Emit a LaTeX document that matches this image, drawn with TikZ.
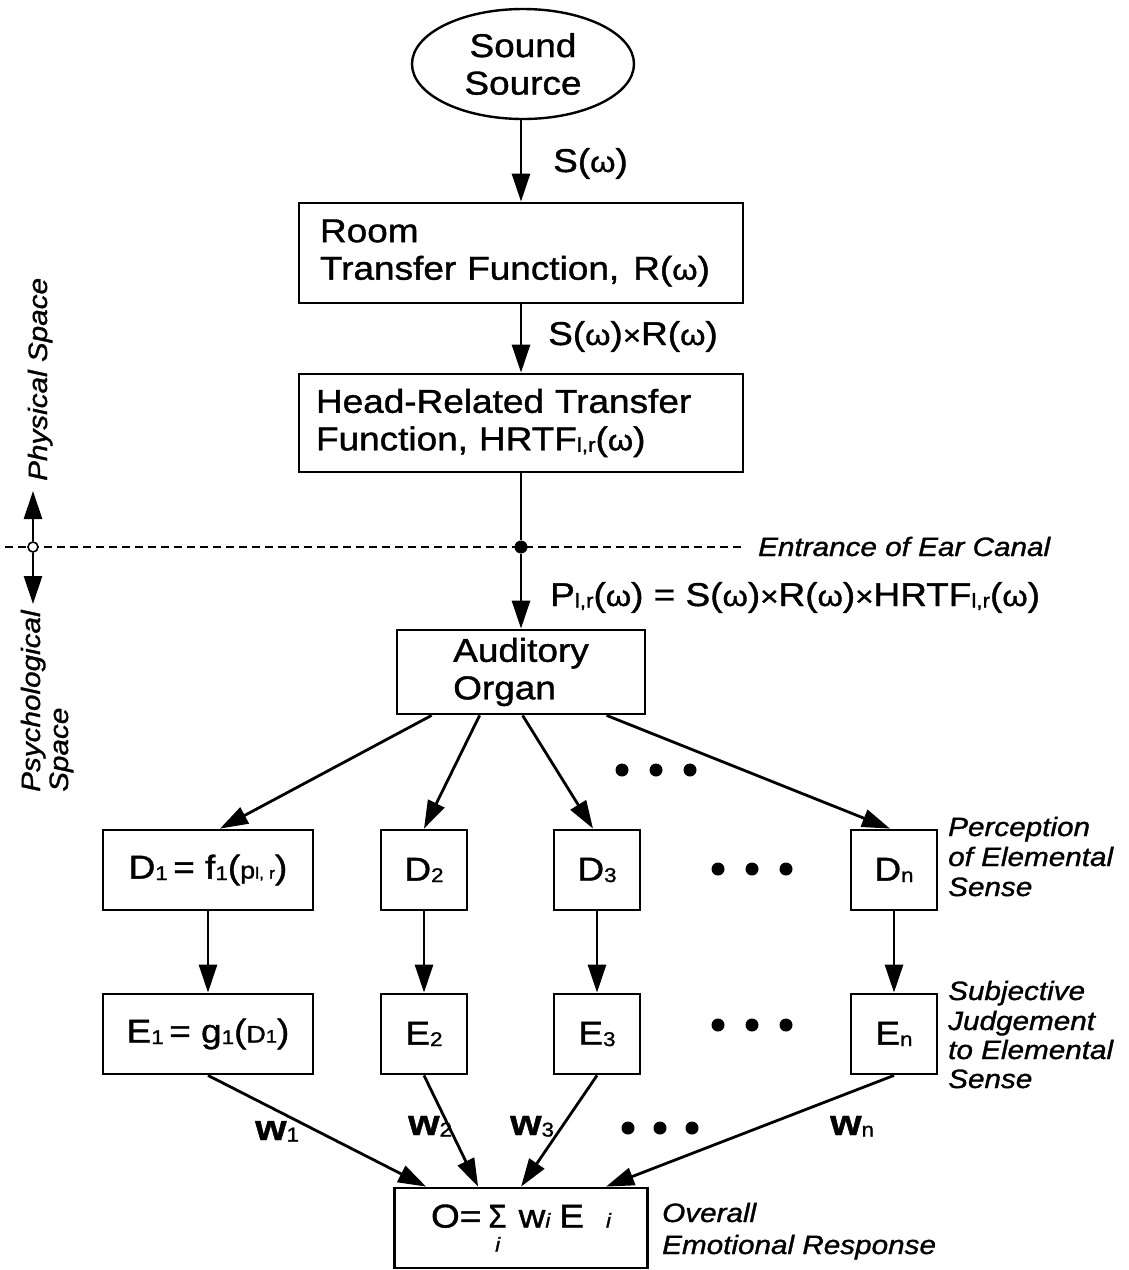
\documentclass[tikz,border=0pt]{standalone}
\usepackage{fontspec}
\setmainfont{Liberation Sans}[FakeStretch=1.12, FakeBold=1.2]
\usetikzlibrary{arrows.meta,shapes.geometric,calc}

% text sizes
\newcommand\mainfs{\fontsize{33}{37.5}\selectfont}
\newcommand\notefs{\fontsize{26.5}{30}\selectfont\itshape}
% small index set at the baseline
\newcommand\sbs[1]{\raisebox{-1.5pt}{\fontsize{20}{20}\selectfont #1}}
\newcommand\sbsi[1]{{\fontsize{20}{20}\selectfont\itshape #1}}
% omega and times sign, set a little smaller than the text
\newcommand\om{{\fontsize{29}{29}\selectfont ω}}
\newcommand\tms{{\fontsize{28}{28}\selectfont ×}}
% summation sign with its index underneath
\newcommand\sumi{\scalebox{0.8}[1]{Σ}\llap{\raisebox{-24pt}{\makebox[18pt][c]{\sbsi{i}}}}}

\tikzset{
  box/.style={draw, line width=2.8pt, inner sep=0pt, font=\mainfs},
  arr/.style={-{Triangle[length=28pt,width=18pt]}, line width=2.8pt},
  plain/.style={line width=2.8pt},
  lab/.style={anchor=base west, inner sep=0pt, font=\mainfs},
  note/.style={anchor=base west, inner sep=0pt, font=\notefs},
  wlab/.style={anchor=base west, inner sep=0pt, font=\fontsize{36}{36}\selectfont\bfseries},
  bigdot/.style={circle, fill, inner sep=0pt, minimum size=13pt},
}

\begin{document}
\begin{tikzpicture}[x=1pt,y=-1pt]
\useasboundingbox (0,0) rectangle (1128,1270);

% physical chain
\node[draw, ellipse, line width=2.4pt, minimum width=222pt, minimum height=110pt,
      inner sep=0pt, align=center, font=\mainfs] (src) at (523,64) {Sound\\Source};
\node[box, minimum width=444pt, minimum height=100pt, text width=402pt,
      inner xsep=21pt, align=left] (room) at (521,253) {Room\\Transfer Function,\hspace{14pt}R(\om)};
\node[box, minimum width=444pt, minimum height=98pt, text width=410pt,
      inner xsep=17pt, align=left] (hrtf) at (521,423) {Head-Related Transfer\\Function, HRTF\sbs{l,r}(\om)};

\draw[arr] (src.south -| room.north) -- (room.north);
\draw[arr] (room.south) -- (hrtf.north);
\node[lab] (ls) at (553,172) {S(\om)};
\node[lab] (lsr) at (548,345) {S(\om)\tms R(\om)};

% boundary at the ear canal
\draw[line width=1.8pt, dash pattern=on 8pt off 5pt] (5,547) -- (745,547);
\node[bigdot] (ear) at (521,547) {};
\node[circle, draw, fill=white, line width=1.6pt, minimum size=10pt, inner sep=0pt] (lc) at (33,547) {};
\coordinate (upend) at (33,491);
\coordinate (downend) at (33,604);
\draw[arr] (lc) -- (upend);
\draw[arr] (lc) -- (downend);
\node[note, rotate=90] (phys) at (47,481) {Physical Space};
\node[note, rotate=90] (psy1) at (40,792) {Psychological};
\node[note, rotate=90] (psy2) at (68,792) {Space};
\node[note] (entr) at (758,556) {Entrance of Ear Canal};

\node[box, minimum width=248pt, minimum height=84pt, align=left] (aud) at (521,672) {Auditory\\Organ};
\draw[plain] (hrtf.south) -- (ear);
\draw[arr] (ear) -- (aud.north);
\node[lab] (lp) at (550,606) {P\sbs{l,r}(\om) = S(\om)\tms R(\om)\tms HRTF\sbs{l,r}(\om)};

% elemental senses
\node[box, minimum width=210pt, minimum height=80pt] (d1) at (208,870)
  {D\sbs{1}\,= f\sbs{1}({\fontsize{24}{24}\selectfont p}{\fontsize{16}{16}\selectfont l, r})};
\node[box, minimum width=86pt, minimum height=80pt] (d2) at (424,870) {D\sbs{2}};
\node[box, minimum width=86pt, minimum height=80pt] (d3) at (597,870) {D\sbs{3}};
\node[box, minimum width=86pt, minimum height=80pt] (dn) at (894,870) {D\sbs{n}};

\node[box, minimum width=210pt, minimum height=80pt] (e1) at (208,1034)
  {E\sbs{1}\,= g\sbs{1}({\fontsize{24}{24}\selectfont D}{\fontsize{18}{18}\selectfont 1})};
\node[box, minimum width=86pt, minimum height=80pt] (e2) at (424,1034) {E\sbs{2}};
\node[box, minimum width=86pt, minimum height=80pt] (e3) at (597,1034) {E\sbs{3}};
\node[box, minimum width=86pt, minimum height=80pt] (en) at (894,1034) {E\sbs{n}};

\draw[arr] ([xshift=36pt]aud.south west) -- ([xshift=12pt]d1.north);
\draw[arr] ([xshift=84pt]aud.south west) -- (d2.north);
\draw[arr] ([xshift=127pt]aud.south west) -- ([xshift=-4pt]d3.north);
\draw[arr] ([xshift=211pt]aud.south west) -- ([xshift=-4pt]dn.north);

\draw[arr] (d1) -- (e1);
\draw[arr] (d2) -- (e2);
\draw[arr] (d3) -- (e3);
\draw[arr] (dn) -- (en);

% ellipsis marks
\foreach \x in {622,656,690} \fill (\x,770) circle[radius=6.5];
\foreach \x in {718,752,786} {
  \fill (\x,869) circle[radius=6.5];
  \fill (\x,1025) circle[radius=6.5];
}
\foreach \x in {628,660,692} \fill (\x,1128) circle[radius=6.5];

\node[note] (pc1) at (948,836) {Perception};
\node[note] (pc2) at (948,866) {of Elemental};
\node[note] (pc3) at (948,896) {Sense};
\node[note] (sj1) at (948,1000) {Subjective};
\node[note] (sj2) at (948,1030) {Judgement};
\node[note] (sj3) at (948,1059) {to Elemental};
\node[note] (sj4) at (948,1088) {Sense};

% weighted sum
\node[box, minimum width=253pt, minimum height=80pt] (o) at (521,1228)
  {O=\hspace{7pt}\sumi\hspace{12pt}w\sbsi{i}\hspace{9pt}E\hspace{22pt}\sbsi{i}};
\draw[arr] (e1.south) -- ([xshift=33pt]o.north west);
\draw[arr] (e2.south) -- ([xshift=85pt]o.north west);
\draw[arr] (e3.south) -- ([xshift=128pt]o.north west);
\draw[arr] (en.south) -- ([xshift=213pt]o.north west);
\node[wlab] (w1) at (255,1140) {w\sbs{\mdseries 1}};
\node[wlab] (w2) at (408,1135) {w\sbs{\mdseries 2}};
\node[wlab] (w3) at (510,1135) {w\sbs{\mdseries 3}};
\node[wlab] (wn) at (830,1135) {w\sbs{\mdseries n}};

\node[note] (ov1) at (662,1222) {Overall};
\node[note] (ov2) at (662,1254) {Emotional Response};
\end{tikzpicture}
\end{document}
